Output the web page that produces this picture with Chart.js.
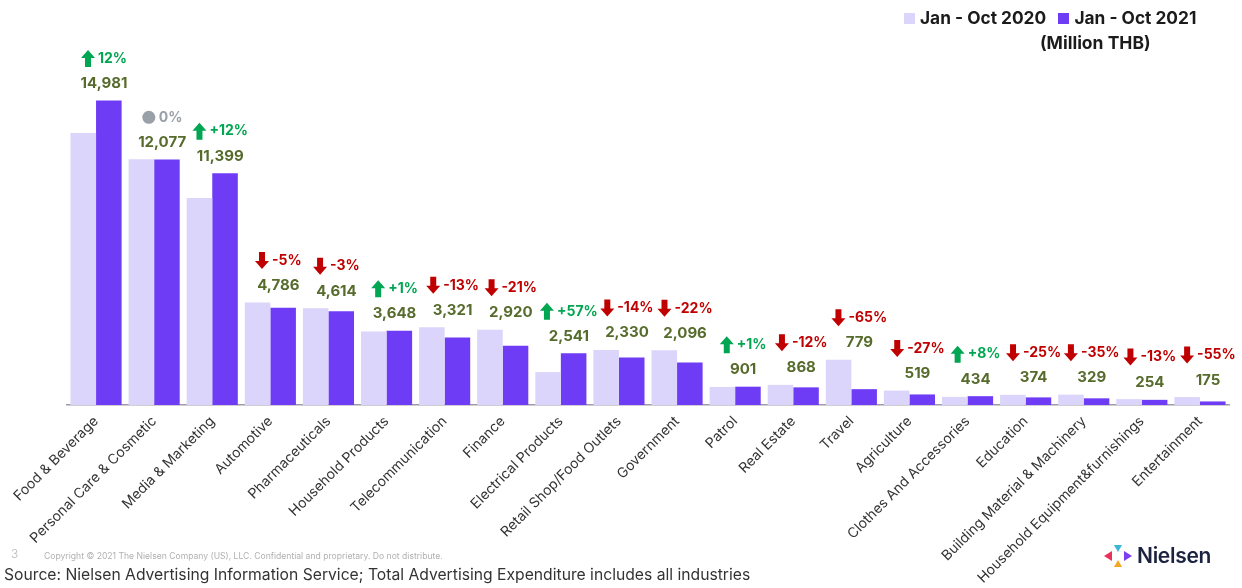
<!DOCTYPE html>
<html>
<head>
<meta charset="utf-8">
<script src="https://cdn.jsdelivr.net/npm/chart.js@4.4.1/dist/chart.umd.min.js"></script>
<style>
  html, body { margin: 0; padding: 0; background: #fff; }
  #wrap { position: relative; width: 1242px; height: 588px; overflow: hidden; font-family: Inter, "Noto Sans", sans-serif; }
  #chart { position: absolute; left: 0; top: 0; }
  .legend { position: absolute; top: 7px; left: 904px; font-weight: 700; font-size: 17.3px; color: #1b1b1b; white-space: nowrap; }
  .legend span.box { display: inline-block; width: 11px; height: 11px; margin-right: 5px; vertical-align: 0px; }
  .unit { position: absolute; top: 32px; left: 1040px; font-weight: 700; font-size: 17.5px; color: #1b1b1b; }
  .pageno { position: absolute; left: 11px; top: 546px; font-size: 12px; color: #b5b5b5; font-weight: 300; }
  .copy { position: absolute; left: 44px; top: 551px; font-size: 8.6px; color: #b0b0b0; white-space: nowrap; }
  .source { position: absolute; left: 4px; top: 565px; font-size: 15.7px; color: #333; font-weight: 400; white-space: nowrap; }
  .logo { position: absolute; left: 1104px; top: 543px; display: flex; align-items: center; }
  .logo b { font-size: 21px; font-weight: 600; color: #1c2340; margin-left: 5px; letter-spacing: -0.3px; }
</style>
</head>
<body>
<div id="wrap">
  <canvas id="chart" width="1242" height="588"></canvas>
  <div class="legend"><span class="box" style="background:#dcd5fb"></span>Jan - Oct 2020&nbsp;&nbsp;&nbsp;<span class="box" style="background:#6f3cf5"></span>Jan - Oct 2021</div>
  <div class="unit">(Million THB)</div>
  <div class="pageno">3</div>
  <div class="copy">Copyright © 2021 The Nielsen Company (US), LLC. Confidential and proprietary. Do not distribute.</div>
  <div class="source">Source: Nielsen Advertising Information Service; Total Advertising Expenditure includes all industries</div>
  <div class="logo">
    <svg width="28" height="22" viewBox="0 0 28 22">
      <polygon points="0,11 8,6 8,16" fill="#e8315b"/>
      <polygon points="10,0 18,0 14,7" fill="#3bb5d8"/>
      <polygon points="10,22 18,22 14,15" fill="#f5a623"/>
      <polygon points="28,11 20,6 20,16" fill="#7b3ff2"/>
    </svg>
    <b>Nielsen</b>
  </div>
</div>
<script>
// categories and values (Million THB)
const categories = ['Food & Beverage', 'Personal Care & Cosmetic', 'Media & Marketing', 'Automotive',
  'Pharmaceuticals', 'Household Products', 'Telecommunication', 'Finance', 'Electrical Products',
  'Retail Shop/Food Outlets', 'Government', 'Patrol', 'Real Estate', 'Travel', 'Agriculture',
  'Clothes And Accessories', 'Education', 'Building Material & Machinery',
  'Household Equipment&furnishings', 'Entertainment'];
const values2020 = [13380, 12080, 10180, 5040, 4760, 3610, 3820, 3700, 1620, 2710,
  2690, 890, 990, 2230, 710, 400, 500, 510, 290, 390];
const values2021 = [14981, 12077, 11399, 4786, 4614, 3648, 3321, 2920, 2541, 2330,
  2096, 901, 868, 779, 519, 434, 374, 329, 254, 175];
const changes = ['12%', '0%', '+12%', '-5%', '-3%', '+1%', '-13%', '-21%', '+57%', '-14%',
  '-22%', '+1%', '-12%', '-65%', '-27%', '+8%', '-25%', '-35%', '-13%', '-55%'];

const GREEN = '#00a651';
const RED = '#c00000';
const GREY = '#9aa0a8';
const OLIVE = '#566b2c';

function drawArrow(ctx, x, cy, up, color) {
  // block arrow
  const w = 14, h = 17, shaft = 6, head = 8;
  ctx.fillStyle = color;
  ctx.beginPath();
  if (up) {
    const top = cy - h / 2;
    ctx.moveTo(x + w / 2, top);
    ctx.lineTo(x + w, top + head);
    ctx.lineTo(x + (w + shaft) / 2, top + head);
    ctx.lineTo(x + (w + shaft) / 2, top + h);
    ctx.lineTo(x + (w - shaft) / 2, top + h);
    ctx.lineTo(x + (w - shaft) / 2, top + head);
    ctx.lineTo(x, top + head);
  } else {
    const bot = cy + h / 2;
    ctx.moveTo(x + w / 2, bot);
    ctx.lineTo(x + w, bot - head);
    ctx.lineTo(x + (w + shaft) / 2, bot - head);
    ctx.lineTo(x + (w + shaft) / 2, bot - h);
    ctx.lineTo(x + (w - shaft) / 2, bot - h);
    ctx.lineTo(x + (w - shaft) / 2, bot - head);
    ctx.lineTo(x, bot - head);
  }
  ctx.closePath();
  ctx.fill();
}

const labelPlugin = {
  id: 'labels',
  afterDatasetsDraw(chart) {
    const ctx = chart.ctx;
    const m0 = chart.getDatasetMeta(0).data;
    const m1 = chart.getDatasetMeta(1).data;
    const xs = chart.scales.x;
    ctx.save();
    ctx.textBaseline = 'middle';
    categories.forEach((c, i) => {
      const top = Math.min(m0[i].y, m1[i].y);
      const cx = xs.getPixelForValue(i) + 8;
      // value label
      ctx.font = '700 15px Inter, sans-serif';
      ctx.fillStyle = OLIVE;
      ctx.textAlign = 'center';
      ctx.fillText(values2021[i].toLocaleString('en-US'), cx, top - 17);
      // change label
      const txt = changes[i];
      const color = txt.startsWith('-') ? RED : (txt === '0%' ? GREY : GREEN);
      ctx.font = '700 14px Inter, sans-serif';
      const tw = ctx.measureText(txt).width;
      const total = 14 + 3 + tw;
      const x0 = cx - total / 2;
      const py = top - 42;
      if (txt === '0%') {
        ctx.fillStyle = GREY;
        ctx.beginPath();
        ctx.arc(x0 + 7, py, 6.5, 0, Math.PI * 2);
        ctx.fill();
      } else {
        drawArrow(ctx, x0, py, !txt.startsWith('-'), color);
      }
      ctx.fillStyle = color;
      ctx.textAlign = 'left';
      ctx.fillText(txt, x0 + 17, py);
    });
    ctx.restore();
  }
};

new Chart(document.getElementById('chart'), {
  type: 'bar',
  data: {
    labels: categories,
    datasets: [
      { label: 'Jan - Oct 2020', data: values2020, backgroundColor: '#dcd5fb',
        categoryPercentage: 0.88, barPercentage: 1.0 },
      { label: 'Jan - Oct 2021', data: values2021, backgroundColor: '#6f3cf5',
        categoryPercentage: 0.88, barPercentage: 1.0 }
    ]
  },
  options: {
    responsive: false,
    animation: false,
    layout: { padding: { left: 67, right: 13, top: 100, bottom: 0 } },
    plugins: { legend: { display: false }, tooltip: { enabled: false } },
    scales: {
      x: {
        grid: { display: false, drawTicks: false },
        border: { display: true, color: '#a09aa8', width: 1.5 },
        ticks: {
          autoSkip: false, minRotation: 45, maxRotation: 45, padding: 8,
          color: '#333', font: { family: 'Inter, sans-serif', size: 14 }
        },
        afterFit(s) { s.height = 183; s.paddingLeft = 0; s.paddingRight = 0; }
      },
      y: { display: false, min: 0, max: 15000 }
    }
  },
  plugins: [labelPlugin]
});
</script>
</body>
</html>
